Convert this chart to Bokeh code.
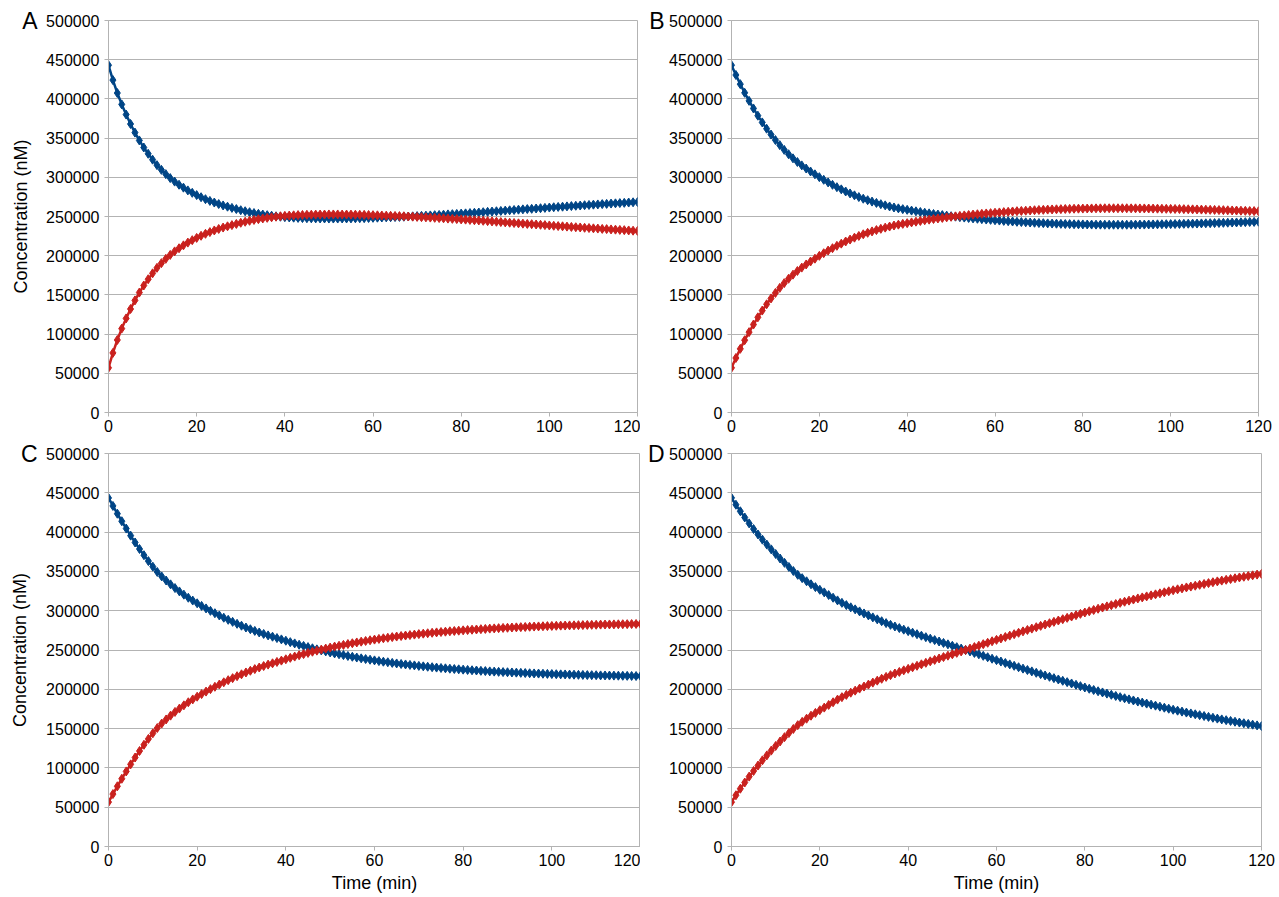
from bokeh.plotting import figure
from bokeh.layouts import column, row
from bokeh.models import FixedTicker, BasicTickFormatter, Range1d, ColumnDataSource, LinearAxis
from bokeh.embed import file_html
from bokeh.resources import INLINE

# ---------------- data (concentrations, in thousands of nM) -------------
time_min = list(range(0, 121))

blue_a_k = [
    443, 424, 407.5, 393, 380, 368, 357, 347, 338, 330,
    322.5, 315.5, 309.5, 304, 299, 294.5, 290.5, 286.8, 283.3, 280.2,
    277.3, 274.6, 272.1, 269.9, 267.8, 265.9, 264.1, 262.5, 261.0, 259.5,
    258.0, 256.7, 255.5, 254.4, 253.4, 252.5, 251.7, 251.0, 250.3, 249.7,
    249.2, 248.8, 248.5, 248.2, 248.0, 247.8, 247.7, 247.6, 247.5, 247.5,
    247.4, 247.4, 247.4, 247.5, 247.5, 247.6, 247.7, 247.8, 247.9, 248.1,
    248.3, 248.5, 248.7, 248.9, 249.1, 249.3, 249.5, 249.7, 250.0, 250.2,
    250.5, 250.8, 251.1, 251.4, 251.7, 252.0, 252.3, 252.7, 253.0, 253.3,
    253.7, 254.0, 254.4, 254.8, 255.1, 255.5, 255.9, 256.3, 256.7, 257.1,
    257.5, 257.9, 258.3, 258.7, 259.1, 259.5, 259.8, 260.2, 260.6, 261.0,
    261.4, 261.8, 262.2, 262.5, 262.9, 263.3, 263.7, 264.0, 264.4, 264.7,
    265.1, 265.4, 265.8, 266.1, 266.5, 266.8, 267.1, 267.4, 267.8, 268.1,
    268.4]
red_a_k = [
    57, 76, 92.5, 107, 120, 132, 143, 153, 162, 170,
    177.5, 184.5, 190.5, 196, 201, 205.5, 209.5, 213.2, 216.7, 219.8,
    222.7, 225.4, 227.9, 230.1, 232.2, 234.1, 235.9, 237.5, 239.0, 240.5,
    242.0, 243.3, 244.5, 245.6, 246.6, 247.5, 248.3, 249.0, 249.7, 250.3,
    250.8, 251.2, 251.5, 251.8, 252.0, 252.2, 252.3, 252.4, 252.5, 252.5,
    252.6, 252.6, 252.6, 252.5, 252.5, 252.4, 252.3, 252.2, 252.1, 251.9,
    251.7, 251.5, 251.3, 251.1, 250.9, 250.7, 250.5, 250.3, 250.0, 249.8,
    249.5, 249.2, 248.9, 248.6, 248.3, 248.0, 247.7, 247.3, 247.0, 246.7,
    246.3, 246.0, 245.6, 245.2, 244.9, 244.5, 244.1, 243.7, 243.3, 242.9,
    242.5, 242.1, 241.7, 241.3, 240.9, 240.5, 240.2, 239.8, 239.4, 239.0,
    238.6, 238.2, 237.8, 237.5, 237.1, 236.7, 236.3, 236.0, 235.6, 235.3,
    234.9, 234.6, 234.2, 233.9, 233.5, 233.2, 232.9, 232.6, 232.2, 231.9,
    231.6]

blue_b_k = [
    443, 430.5, 418.8, 407.8, 397.5, 387.8, 378.6, 370.0, 362.0, 354.5,
    347.5, 341.0, 335.0, 329.4, 324.2, 319.5, 315.2, 311.2, 307.4, 303.8,
    300.2, 296.8, 293.5, 290.4, 287.4, 284.6, 281.9, 279.4, 277.0, 274.8,
    272.7, 270.8, 269.0, 267.3, 265.7, 264.2, 262.8, 261.5, 260.4, 259.4,
    258.5, 257.5, 256.6, 255.7, 254.8, 254.0, 253.2, 252.5, 251.8, 251.1,
    250.4, 249.8, 249.2, 248.6, 248.1, 247.6, 247.1, 246.6, 246.1, 245.7,
    245.2, 244.8, 244.4, 244.0, 243.6, 243.2, 242.9, 242.6, 242.3, 242.0,
    241.7, 241.5, 241.2, 241.0, 240.8, 240.6, 240.4, 240.3, 240.1, 240.0,
    239.9, 239.8, 239.7, 239.6, 239.6, 239.5, 239.5, 239.5, 239.5, 239.5,
    239.5, 239.6, 239.6, 239.7, 239.7, 239.8, 239.9, 240.0, 240.1, 240.2,
    240.3, 240.4, 240.5, 240.6, 240.8, 240.9, 241.0, 241.2, 241.3, 241.5,
    241.6, 241.8, 241.9, 242.1, 242.3, 242.4, 242.6, 242.8, 243.0, 243.1,
    243.3]
red_b_k = [
    57, 69.5, 81.2, 92.2, 102.5, 112.2, 121.4, 130.0, 138.0, 145.5,
    152.5, 159.0, 165.0, 170.6, 175.8, 180.5, 184.8, 188.8, 192.6, 196.2,
    199.8, 203.2, 206.5, 209.6, 212.6, 215.4, 218.1, 220.6, 223.0, 225.2,
    227.3, 229.2, 231.0, 232.7, 234.3, 235.8, 237.2, 238.5, 239.6, 240.6,
    241.5, 242.5, 243.4, 244.3, 245.2, 246.0, 246.8, 247.5, 248.2, 248.9,
    249.6, 250.2, 250.8, 251.4, 251.9, 252.4, 252.9, 253.4, 253.9, 254.3,
    254.8, 255.2, 255.6, 256.0, 256.4, 256.8, 257.1, 257.4, 257.7, 258.0,
    258.3, 258.5, 258.8, 259.0, 259.2, 259.4, 259.6, 259.7, 259.9, 260.0,
    260.1, 260.2, 260.3, 260.4, 260.4, 260.5, 260.5, 260.5, 260.5, 260.5,
    260.5, 260.4, 260.4, 260.3, 260.3, 260.2, 260.1, 260.0, 259.9, 259.8,
    259.7, 259.6, 259.5, 259.4, 259.2, 259.1, 259.0, 258.8, 258.7, 258.5,
    258.4, 258.2, 258.1, 257.9, 257.7, 257.6, 257.4, 257.2, 257.0, 256.9,
    256.7]

blue_c_k = [
    443.5, 433.3, 423.4, 413.8, 404.5, 395.5, 386.8, 378.5, 370.6, 363.1,
    356.0, 349.3, 343.6, 338.4, 333.5, 328.8, 324.5, 320.4, 316.5, 312.9,
    309.4, 306.1, 302.9, 299.8, 296.8, 293.9, 291.1, 288.4, 285.8, 283.3,
    280.9, 278.6, 276.4, 274.3, 272.3, 270.4, 268.6, 266.9, 265.2, 263.5,
    261.8, 260.0, 258.4, 256.7, 255.2, 253.7, 252.2, 250.8, 249.5, 248.2,
    246.9, 245.7, 244.6, 243.5, 242.4, 241.4, 240.4, 239.4, 238.5, 237.6,
    236.8, 235.9, 235.1, 234.4, 233.6, 232.9, 232.2, 231.6, 231.0, 230.4,
    229.8, 229.2, 228.7, 228.1, 227.6, 227.1, 226.7, 226.2, 225.8, 225.4,
    225.0, 224.6, 224.2, 223.9, 223.5, 223.2, 222.8, 222.5, 222.2, 221.9,
    221.7, 221.4, 221.2, 220.9, 220.7, 220.4, 220.2, 220.0, 219.8, 219.6,
    219.4, 219.2, 219.0, 218.9, 218.7, 218.6, 218.4, 218.3, 218.1, 218.0,
    217.9, 217.7, 217.6, 217.5, 217.4, 217.3, 217.2, 217.1, 217.0, 216.9,
    216.8]
red_c_k = [
    56.5, 66.7, 76.6, 86.2, 95.5, 104.5, 113.2, 121.5, 129.4, 136.9,
    144.0, 150.7, 156.4, 161.6, 166.5, 171.2, 175.5, 179.6, 183.5, 187.1,
    190.6, 193.9, 197.1, 200.2, 203.2, 206.1, 208.9, 211.6, 214.2, 216.7,
    219.1, 221.4, 223.6, 225.7, 227.7, 229.6, 231.4, 233.1, 234.8, 236.5,
    238.2, 240.0, 241.6, 243.3, 244.8, 246.3, 247.8, 249.2, 250.5, 251.8,
    253.1, 254.3, 255.4, 256.5, 257.6, 258.6, 259.6, 260.6, 261.5, 262.4,
    263.2, 264.1, 264.9, 265.6, 266.4, 267.1, 267.8, 268.4, 269.0, 269.6,
    270.2, 270.8, 271.3, 271.9, 272.4, 272.9, 273.3, 273.8, 274.2, 274.6,
    275.0, 275.4, 275.8, 276.1, 276.5, 276.8, 277.2, 277.5, 277.8, 278.1,
    278.3, 278.6, 278.8, 279.1, 279.3, 279.6, 279.8, 280.0, 280.2, 280.4,
    280.6, 280.8, 281.0, 281.1, 281.3, 281.4, 281.6, 281.7, 281.9, 282.0,
    282.1, 282.3, 282.4, 282.5, 282.6, 282.7, 282.8, 282.9, 283.0, 283.1,
    283.2]

blue_d_k = [
    443.6, 434.8, 426.5, 418.6, 411.1, 403.9, 397.0, 390.4, 384.1, 378.0,
    372.1, 366.4, 360.9, 355.6, 350.5, 345.6, 341.4, 337.4, 333.6, 330.0,
    326.6, 323.3, 319.9, 316.5, 313.1, 310.0, 307.1, 304.3, 301.7, 299.1,
    296.5, 294.0, 291.5, 289.0, 286.6, 284.2, 282.0, 279.9, 277.9, 275.9,
    274.0, 272.0, 270.1, 268.2, 266.3, 264.4, 262.6, 260.8, 259.0, 257.2,
    255.4, 253.6, 251.8, 250.0, 248.2, 246.3, 244.5, 242.6, 240.8, 238.9,
    237.1, 235.3, 233.5, 231.7, 229.9, 228.1, 226.3, 224.5, 222.8, 221.0,
    219.3, 217.6, 215.9, 214.2, 212.5, 210.8, 209.1, 207.4, 205.7, 204.0,
    202.3, 200.7, 199.1, 197.5, 196.0, 194.5, 193.0, 191.5, 190.0, 188.6,
    187.2, 185.8, 184.4, 183.1, 181.8, 180.5, 179.2, 177.9, 176.6, 175.3,
    174.0, 172.8, 171.6, 170.4, 169.3, 168.2, 167.1, 166.0, 164.9, 163.8,
    162.7, 161.7, 160.7, 159.7, 158.7, 157.7, 156.8, 155.9, 155.0, 154.1,
    153.2]
red_d_k = [
    56.4, 65.2, 73.5, 81.4, 88.9, 96.1, 103.0, 109.6, 115.9, 122.0,
    127.9, 133.6, 139.1, 144.4, 149.5, 154.4, 158.6, 162.6, 166.4, 170.0,
    173.4, 176.7, 180.1, 183.5, 186.9, 190.0, 192.9, 195.7, 198.3, 200.9,
    203.5, 206.0, 208.5, 211.0, 213.4, 215.8, 218.0, 220.1, 222.1, 224.1,
    226.0, 228.0, 229.9, 231.8, 233.7, 235.6, 237.4, 239.2, 241.0, 242.8,
    244.6, 246.4, 248.2, 250.0, 251.8, 253.7, 255.5, 257.4, 259.2, 261.1,
    262.9, 264.7, 266.5, 268.3, 270.1, 271.9, 273.7, 275.5, 277.2, 279.0,
    280.7, 282.4, 284.1, 285.8, 287.5, 289.2, 290.9, 292.6, 294.3, 296.0,
    297.7, 299.3, 300.9, 302.5, 304.0, 305.5, 307.0, 308.5, 310.0, 311.4,
    312.8, 314.2, 315.6, 316.9, 318.2, 319.5, 320.8, 322.1, 323.4, 324.7,
    326.0, 327.2, 328.4, 329.6, 330.7, 331.8, 332.9, 334.0, 335.1, 336.2,
    337.3, 338.3, 339.3, 340.3, 341.3, 342.3, 343.2, 344.1, 345.0, 345.9,
    346.8]

y_ticks = [0, 50000, 100000, 150000, 200000, 250000, 300000, 350000, 400000, 450000, 500000]
x_ticks = [0, 20, 40, 60, 80, 100, 120]
y_top = 500000
panel_letters = ["A", "B", "C", "D"]
y_title = "Concentration (nM)"
x_title = "Time (min)"

# ---------------- styling -------------
BLUE = "#004586"
RED = "#c9211e"
GRID = "#b3b3b3"
FONT = "Liberation Sans"


def make_panel(letter, blue_k, red_k, width, height, left, right, top, bottom,
               show_ytitle, show_xtitle, letter_standoff):
    p = figure(width=width, height=height, output_backend="svg", toolbar_location=None,
               x_range=Range1d(0, 120), y_range=Range1d(0, y_top),
               min_border_left=left, min_border_right=right,
               min_border_top=top, min_border_bottom=bottom)
    p.background_fill_color = "white"
    p.border_fill_color = "white"
    p.outline_line_color = GRID
    p.outline_line_width = 1
    p.xgrid.visible = False
    p.ygrid.grid_line_color = GRID
    p.ygrid.grid_line_width = 1
    xax, yax = p.xaxis[0], p.yaxis[0]
    yax.ticker = FixedTicker(ticks=y_ticks)
    xax.ticker = FixedTicker(ticks=x_ticks)
    yax.formatter = BasicTickFormatter(use_scientific=False)
    for ax in (xax, yax):
        ax.axis_line_color = GRID
        ax.major_tick_line_color = GRID
        ax.major_tick_in = 0
        ax.major_tick_out = 4
        ax.minor_tick_line_color = None
        ax.major_label_text_font = FONT
        ax.major_label_text_font_size = "16px"
        ax.major_label_text_color = "#000000"
        ax.axis_label_text_font = FONT
        ax.axis_label_text_font_size = "18px"
        ax.axis_label_text_font_style = "normal"
        ax.axis_label_text_color = "#000000"
    yax.major_label_standoff = 5
    xax.major_label_standoff = 3
    if show_xtitle:
        xax.axis_label = x_title
        xax.axis_label_standoff = 4

    # outer left axis: carries the panel letter (at the top) and the y title
    outer = LinearAxis(ticker=FixedTicker(ticks=[y_top]),
                       major_label_overrides={y_top: letter})
    outer.axis_line_color = None
    outer.major_tick_line_color = None
    outer.minor_tick_line_color = None
    outer.major_tick_in = 0
    outer.major_tick_out = 0
    outer.major_label_standoff = letter_standoff
    outer.major_label_text_font = FONT
    outer.major_label_text_font_size = "23px"
    outer.major_label_text_color = "#000000"
    if show_ytitle:
        outer.axis_label = y_title
        outer.axis_label_standoff = -12
        outer.axis_label_text_font = FONT
        outer.axis_label_text_font_size = "18px"
        outer.axis_label_text_font_style = "normal"
        outer.axis_label_text_color = "#000000"
    p.add_layout(outer, "left")

    src = ColumnDataSource(dict(
        t=time_min,
        blue=[v * 1000 for v in blue_k],
        red=[v * 1000 for v in red_k],
    ))
    for col, color in (("blue", BLUE), ("red", RED)):
        p.line("t", col, source=src, line_color=color, line_width=2.5)
        p.scatter("t", col, source=src, marker="diamond", size=9,
                  fill_color=color, line_color=color)
    return p


TOP_H, BOT_H = 440, 457

pa = make_panel(panel_letters[0], blue_a_k, red_a_k, 640, TOP_H, 108, 3, 20, 27, True, False, 6)
pb = make_panel(panel_letters[1], blue_b_k, red_b_k, 639, TOP_H, 91, 21, 20, 28, False, False, 2)
pc = make_panel(panel_letters[2], blue_c_k, red_c_k, 640, BOT_H, 108, 0, 13, 51, True, True, 6)
pd = make_panel(panel_letters[3], blue_d_k, red_d_k, 639, BOT_H, 91, 18, 13, 51, False, True, 2)

layout = column(row(pa, pb), row(pc, pd))

with open("out.html", "w") as f:
    f.write(file_html(layout, INLINE))
